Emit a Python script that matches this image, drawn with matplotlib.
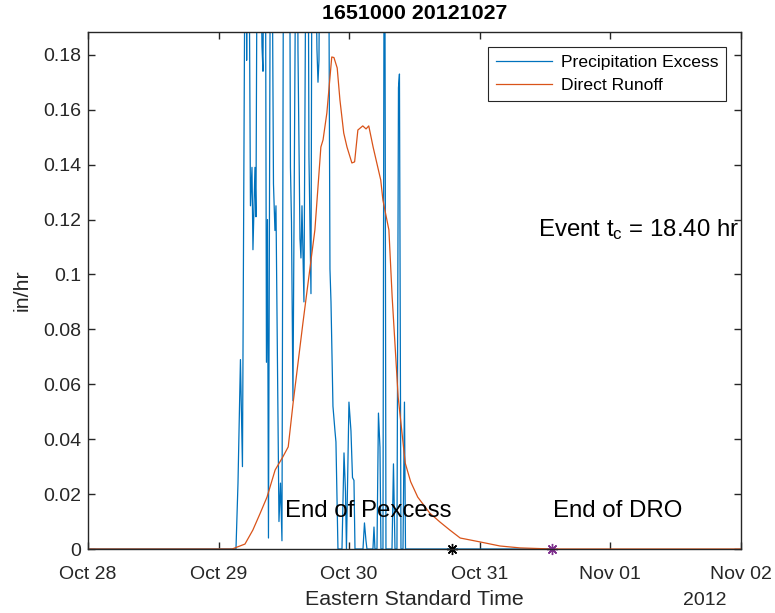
import numpy as np
import matplotlib
matplotlib.use('Agg')
from matplotlib import pyplot as plt
import matplotlib.dates as mdates

plt.rcParams['font.family'] = ['Liberation Sans', 'DejaVu Sans']
plt.rcParams['mathtext.default'] = 'regular'

# hours after 2012-10-28 00:00 EST, values in in/hr
pex_hours = [0.0, 27.20, 27.57, 28.02, 28.39, 29.04, 29.16, 29.40, 29.86, 30.14,
             30.32, 30.69, 30.87, 31.24, 31.98, 32.16, 32.53, 32.80, 32.99, 33.17,
             33.63, 34.09, 34.36, 34.55, 35.10, 35.38, 35.65, 36.02, 36.57, 36.94,
             37.21, 37.40, 37.67, 38.41, 38.59, 38.96, 39.14, 39.33, 39.69, 40.25,
             40.43, 40.61, 40.98, 41.26, 42.08, 42.27, 42.45, 42.82, 44.10, 44.47,
             44.66, 45.02, 45.39, 45.57, 45.94, 46.68, 47.05, 47.32, 47.50, 47.96,
             48.33, 48.61, 48.88, 49.07, 50.54, 50.81, 51.09, 51.27, 52.37, 52.56,
             52.74, 53.11, 53.38, 53.66, 53.84, 54.21, 54.49, 54.76, 55.87, 56.14,
             56.42, 56.78, 57.06, 57.24, 57.52, 57.89, 58.16, 58.35, 85.30]
pex_vals = [0.0, 0.0, 0.024, 0.069, 0.030, 0.30, 0.178, 0.30, 0.125, 0.139,
            0.109, 0.139, 0.121, 0.30, 0.183, 0.174, 0.30, 0.068, 0.120, 0.004,
            0.30, 0.133, 0.116, 0.125, 0.010, 0.024, 0.003, 0.30, 0.20, 0.30,
            0.139, 0.119, 0.054, 0.30, 0.182, 0.113, 0.106, 0.125, 0.090, 0.30,
            0.25, 0.143, 0.093, 0.30, 0.182, 0.170, 0.178, 0.30, 0.30, 0.102,
            0.090, 0.052, 0.043, 0.039, 0.0, 0.0, 0.035, 0.021, 0.0, 0.0535,
            0.043, 0.026, 0.025, 0.0, 0.0, 0.0095, 0.003, 0.0, 0.0, 0.008,
            0.0, 0.0, 0.0495, 0.037, 0.0, 0.0, 0.30, 0.0, 0.0, 0.031,
            0.0, 0.0, 0.168, 0.173, 0.0, 0.0, 0.0535, 0.0, 0.0]

dro_hours = [0.0, 26.5, 27.4, 28.85, 30.3, 31.6, 32.9, 34.4, 35.8, 36.8, 37.7,
             39.5, 41.7, 42.8, 43.2, 43.9, 44.8, 45.2, 45.8, 46.3, 47.0, 47.6,
             48.5, 49.0, 49.6, 50.5, 51.1, 51.6, 52.4, 53.8, 54.2, 55.3, 55.9,
             57.0, 58.3, 59.3, 60.6, 62.8, 64.7, 66.5, 68.4, 72.0, 75.7, 79.4,
             85.3, 120.0]
dro_vals = [0.0, 0.0, 0.0007, 0.0018, 0.0069, 0.0128, 0.0189, 0.0288, 0.0335,
            0.0372, 0.0532, 0.0823, 0.1162, 0.1464, 0.149, 0.1588, 0.1792, 0.179,
            0.1752, 0.1636, 0.1515, 0.1464, 0.1406, 0.141, 0.1526, 0.1541, 0.153,
            0.1541, 0.1464, 0.1344, 0.1271, 0.1162, 0.0918, 0.0554, 0.0313,
            0.0245, 0.0189, 0.0131, 0.0098, 0.0069, 0.0040, 0.0026, 0.0011,
            0.0004, 0.0, 0.0]

end_pexcess_hr = 66.9
tc_hr = 18.40
end_dro_hr = end_pexcess_hr + tc_hr

t0 = mdates.datestr2num('2012-10-28')


def to_num(h):
    return t0 + np.asarray(h) / 24.0


fig = plt.figure(figsize=(7.75, 6.13), dpi=100)
ax = fig.add_axes([0.1135, 0.1044, 0.8426, 0.8434])

ax.plot(to_num(pex_hours), pex_vals, color='#0072BD', lw=0.9, label='Precipitation Excess')
ax.plot(to_num(dro_hours), dro_vals, color='#D95319', lw=0.9, label='Direct Runoff')
ax.plot(to_num(end_pexcess_hr), 0, marker=(8, 2, 0), color='k', ms=8, mew=1, clip_on=False)
ax.plot(to_num(end_dro_hr), 0, marker=(8, 2, 0), color='#7E2F8E', ms=8, mew=1, clip_on=False)

ax.text(to_num(36.2), 0.0138, 'End of Pexcess', fontsize=17.3, va='center', ha='left')
ax.text(to_num(85.45), 0.0138, 'End of DRO', fontsize=17.3, va='center', ha='left')
ax.text(to_num(82.7), 0.1162, 'Event t$_c$ = %.2f hr' % tc_hr, fontsize=17.3,
        va='center', ha='left')

ax.set_xlim(t0, t0 + 5)
ax.set_ylim(0, 0.1883)
ax.set_xticks(t0 + np.arange(6))
ax.xaxis.set_major_formatter(mdates.DateFormatter('%b %d'))
ax.set_yticks(np.arange(0, 0.19, 0.02))
ax.set_yticklabels(['0'] + ['%g' % v for v in np.arange(0.02, 0.19, 0.02)])

for s in ax.spines.values():
    s.set_color('#262626')
    s.set_linewidth(1.0)
ax.tick_params(direction='in', length=5, width=1.0, color='#262626',
               labelcolor='#262626', labelsize=14, top=True, right=True)
ax.tick_params(axis='x', pad=12.5)
ax.tick_params(axis='y', pad=5)

ax.set_title('1651000 20121027', fontsize=15.4, fontweight='bold', pad=9)
ax.set_xlabel('Eastern Standard Time', fontsize=15.4, color='#262626', labelpad=4.5)
ax.set_ylabel('in/hr', fontsize=15.4, color='#262626', labelpad=8)
ax.text(0.945, -0.1, '2012', transform=ax.transAxes, fontsize=14,
        color='#262626', ha='center', va='center')

leg = ax.legend(loc='upper right', fontsize=12.6, handlelength=3.2, handletextpad=0.5,
                borderaxespad=0.85, labelspacing=0.45, borderpad=0.45, fancybox=False,
                framealpha=1, edgecolor='#262626')
leg.get_frame().set_linewidth(0.8)

fig.savefig('out.png', dpi=100)
